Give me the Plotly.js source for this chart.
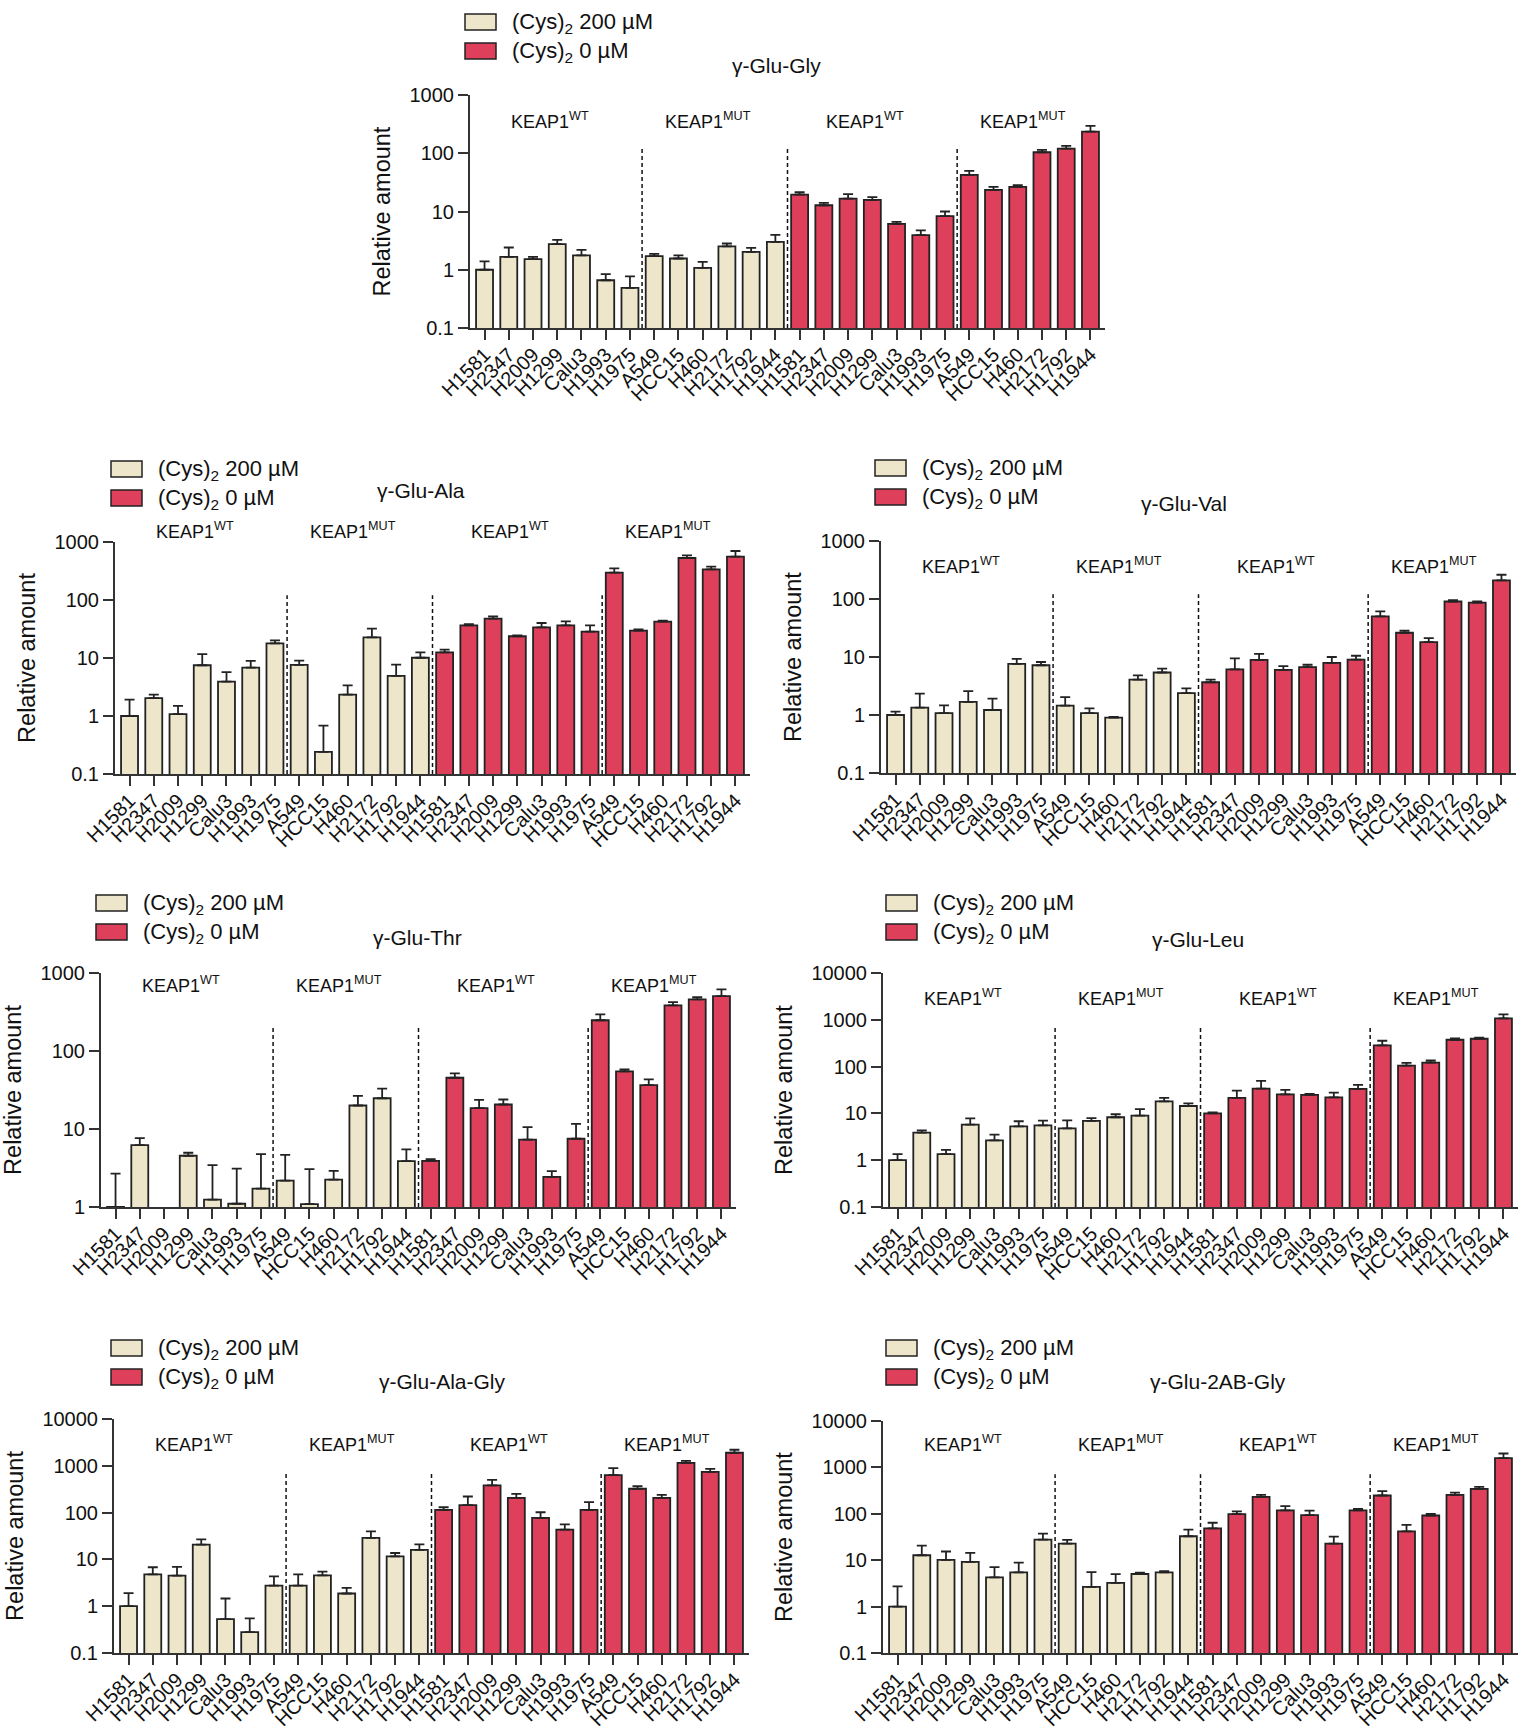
<!DOCTYPE html>
<html>
<head>
<meta charset="utf-8">
<script src="https://cdn.plot.ly/plotly-3.0.1.min.js"></script>
<style>html,body{margin:0;padding:0;background:#fff;}</style>
</head>
<body>
<div id="chart" style="width:1525px;height:1729px;"></div>
<script>
// Cell lines, shown once for each medium condition
const cellLines = ['H1581','H2347','H2009','H1299','Calu3','H1993','H1975','A549','HCC15','H460','H2172','H1792','H1944'];
const tickLabels = cellLines.concat(cellLines);
const groupLabels = ['KEAP1<sup>WT</sup>','KEAP1<sup>MUT</sup>','KEAP1<sup>WT</sup>','KEAP1<sup>MUT</sup>'];
const seriesNames = ['(Cys)<sub>2</sub> 200 µM','(Cys)<sub>2</sub> 0 µM'];

// γ-Glu-Gly
const gluGly_cys200     = [1.0, 1.67, 1.52, 2.75, 1.76, 0.66, 0.49, 1.71, 1.56, 1.08, 2.51, 2.03, 3.02];
const gluGly_cys200_err = [0.39, 0.74, 0.15, 0.5, 0.44, 0.18, 0.28, 0.16, 0.2, 0.29, 0.31, 0.35, 0.96];
const gluGly_cys0       = [19.5, 12.8, 16.7, 15.8, 6.15, 3.93, 8.3, 42.5, 23.5, 26.5, 104, 120, 235];
const gluGly_cys0_err   = [1.9, 1.3, 3.1, 1.8, 0.5, 0.8, 1.7, 7.3, 3, 1.8, 10, 14, 59];

// γ-Glu-Ala
const gluAla_cys200     = [1.0, 2.04, 1.08, 7.5, 3.9, 6.8, 17.9, 7.6, 0.24, 2.33, 22.7, 4.9, 10.1];
const gluAla_cys200_err = [0.91, 0.29, 0.41, 4.2, 1.8, 2.1, 2.3, 1.4, 0.44, 1.05, 9.4, 2.8, 2.4];
const gluAla_cys0       = [12.5, 36.5, 47.7, 23.7, 33.8, 36.5, 28.5, 296, 29.6, 42.3, 530, 338, 558];
const gluAla_cys0_err   = [1.4, 2, 4.5, 0.9, 6.3, 6.4, 8, 56, 1.6, 1.7, 59, 38, 142];

// γ-Glu-Val
const gluVal_cys200     = [1.0, 1.34, 1.08, 1.69, 1.22, 7.6, 7.2, 1.45, 1.08, 0.9, 4.08, 5.4, 2.39];
const gluVal_cys200_err = [0.14, 0.99, 0.39, 0.9, 0.69, 1.7, 1.0, 0.59, 0.22, 0.03, 0.76, 0.9, 0.48];
const gluVal_cys0       = [3.67, 6.14, 8.9, 6.0, 6.7, 7.9, 9.0, 50, 26.2, 18.1, 90.6, 86.5, 209];
const gluVal_cys0_err   = [0.4, 3.35, 2.4, 0.94, 0.65, 2.1, 1.5, 11, 2.2, 3.1, 5, 4, 53];

// γ-Glu-Thr
const gluThr_cys200     = [1.0, 6.2, 0.6, 4.54, 1.24, 1.1, 1.72, 2.18, 1.09, 2.25, 20, 24.8, 3.87];
const gluThr_cys200_err = [1.68, 1.44, 0.2, 0.42, 2.2, 2.0, 3.05, 2.49, 1.96, 0.66, 6.6, 8.2, 1.6];
const gluThr_cys0       = [3.9, 45.4, 18.5, 20.6, 7.3, 2.43, 7.5, 248, 54.7, 36.5, 384, 458, 506];
const gluThr_cys0_err   = [0.2, 6.2, 5.1, 3.3, 3.3, 0.45, 4.1, 46, 3.3, 6.7, 40, 33, 110];

// γ-Glu-Leu
const gluLeu_cys200     = [1.0, 3.88, 1.35, 5.76, 2.65, 5.3, 5.57, 4.8, 6.9, 8.28, 9.0, 18.1, 14.4];
const gluLeu_cys200_err = [0.35, 0.47, 0.32, 2.1, 0.86, 1.5, 1.45, 2.3, 1.0, 1.3, 3.4, 3.3, 2];
const gluLeu_cys0       = [10, 21.4, 34, 25.6, 24.8, 22.1, 33.4, 283, 105, 122, 375, 394, 1068];
const gluLeu_cys0_err   = [0.5, 9.3, 15.7, 6.2, 1.3, 5.8, 7.3, 74, 15, 13, 26, 20, 236];

// γ-Glu-Ala-Gly
const gluAlaGly_cys200     = [1.0, 4.79, 4.49, 20.7, 0.53, 0.28, 2.74, 2.74, 4.56, 1.87, 28.7, 11.6, 15.9];
const gluAlaGly_cys200_err = [0.9, 2.0, 2.4, 6.2, 0.93, 0.27, 1.6, 2.05, 0.9, 0.6, 11, 2.1, 5.1];
const gluAlaGly_cys0       = [114, 144, 380, 207, 76.8, 43.2, 114, 631, 323, 207, 1160, 743, 1900];
const gluAlaGly_cys0_err   = [16, 77, 122, 45, 25, 13, 53, 260, 45, 33, 120, 119, 300];

// γ-Glu-2AB-Gly
const glu2ABGly_cys200     = [1.0, 12.8, 10.2, 9.2, 4.27, 5.47, 27.8, 22.8, 2.65, 3.23, 5.04, 5.47, 32.8];
const glu2ABGly_cys200_err = [1.74, 7.8, 5.2, 5.2, 2.85, 3.4, 9.6, 4.6, 2.9, 1.8, 0.33, 0.37, 12.8];
const glu2ABGly_cys0       = [48.4, 98.4, 232, 118, 93.6, 22.7, 118, 248, 41.7, 92, 256, 344, 1586];
const glu2ABGly_cys0_err   = [15.7, 14, 24, 28, 24, 9.4, 10, 59, 16, 8, 31, 36, 409];

// Decade tick labels for the log axes
const decadeTicks = [0.1, 1, 10, 100, 1000, 10000];
const decadeText  = ['0.1', '1', '10', '100', '1000', '10000'];

const W = 1525, H = 1729;
const CREAM = '#EDE6CB', RED = '#DE3F5B', EDGE = '#222222', AXIS = '#333333';
const FONT = 'Liberation Sans, Arial, Helvetica, sans-serif';

// Panel layout: plot box in page pixels [left, right, top, bottom], log range, legend / title anchors
const panels = [
  {title:'γ-Glu-Gly',     box:[470,1105,95,328],   logRange:[-1,3], legend:[465,14],   titleAt:[777,66],   groupY:120,
   lo:gluGly_cys200, loErr:gluGly_cys200_err, hi:gluGly_cys0, hiErr:gluGly_cys0_err},
  {title:'γ-Glu-Ala',     box:[115,750,542,774],   logRange:[-1,3], legend:[111,461],  titleAt:[421,490],  groupY:530,
   lo:gluAla_cys200, loErr:gluAla_cys200_err, hi:gluAla_cys0, hiErr:gluAla_cys0_err},
  {title:'γ-Glu-Val',     box:[881,1516,541,773],  logRange:[-1,3], legend:[875,460],  titleAt:[1184,504], groupY:565,
   lo:gluVal_cys200, loErr:gluVal_cys200_err, hi:gluVal_cys0, hiErr:gluVal_cys0_err},
  {title:'γ-Glu-Thr',     box:[101,736,973,1207],  logRange:[0,3],  legend:[96,895],   titleAt:[417,937],  groupY:984,
   lo:gluThr_cys200, loErr:gluThr_cys200_err, hi:gluThr_cys0, hiErr:gluThr_cys0_err},
  {title:'γ-Glu-Leu',     box:[883,1518,973,1207], logRange:[-1,4], legend:[886,895],  titleAt:[1198,939], groupY:998,
   lo:gluLeu_cys200, loErr:gluLeu_cys200_err, hi:gluLeu_cys0, hiErr:gluLeu_cys0_err},
  {title:'γ-Glu-Ala-Gly', box:[114,749,1419,1653], logRange:[-1,4], legend:[111,1340], titleAt:[442,1381], groupY:1443,
   lo:gluAlaGly_cys200, loErr:gluAlaGly_cys200_err, hi:gluAlaGly_cys0, hiErr:gluAlaGly_cys0_err},
  {title:'γ-Glu-2AB-Gly', box:[883,1518,1421,1653],logRange:[-1,4], legend:[886,1340], titleAt:[1218,1381], groupY:1443,
   lo:glu2ABGly_cys200, loErr:glu2ABGly_cys200_err, hi:glu2ABGly_cys0, hiErr:glu2ABGly_cys0_err}
];

const px = v => v / W;
const py = v => 1 - v / H;

const nLines = cellLines.length;
const posLow  = cellLines.map((_, i) => i);
const posHigh = cellLines.map((_, i) => i + nLines);
const allPos  = posLow.concat(posHigh);
const noMinus = cellLines.map(() => 0);

const traces = [];
const layout = {
  width: W, height: H,
  margin: {l:0, r:0, t:0, b:0},
  paper_bgcolor: '#fff', plot_bgcolor: 'rgba(0,0,0,0)',
  font: {family: FONT, color: '#111', size: 20},
  barmode: 'overlay',
  showlegend: false,
  shapes: [], annotations: []
};

function barTrace(xs, ys, errs, color, name, xa, ya) {
  return {
    type: 'bar', name: name, x: xs, y: ys, xaxis: xa, yaxis: ya, width: 0.7,
    marker: {color: color, line: {color: EDGE, width: 1.8}},
    error_y: {type: 'data', symmetric: false, array: errs, arrayminus: noMinus,
              color: EDGE, thickness: 1.8, width: 5},
    hoverinfo: 'x+y'
  };
}

panels.forEach((p, k) => {
  const sfx = k === 0 ? '' : String(k + 1);
  const xa = 'x' + sfx, ya = 'y' + sfx;
  const [l, r, t, b] = p.box;

  traces.push(barTrace(posLow,  p.lo, p.loErr, CREAM, '(Cys)2 200 µM', xa, ya));
  traces.push(barTrace(posHigh, p.hi, p.hiErr, RED,   '(Cys)2 0 µM',   xa, ya));

  const tv = [], tt = [];
  decadeTicks.forEach((v, i) => {
    const lg = Math.log10(v);
    if (lg >= p.logRange[0] - 1e-9 && lg <= p.logRange[1] + 1e-9) { tv.push(v); tt.push(decadeText[i]); }
  });

  layout['xaxis' + sfx] = {
    domain: [px(l), px(r)], anchor: ya,
    range: [-0.6, 2 * nLines - 0.4],
    tickmode: 'array', tickvals: allPos, ticktext: tickLabels, tickangle: -45,
    ticks: 'outside', ticklen: 10, tickwidth: 2, tickcolor: AXIS,
    tickfont: {size: 20, color: '#111'}, ticklabelstandoff: -5,
    showline: true, linewidth: 2, linecolor: AXIS,
    showgrid: false, zeroline: false, fixedrange: true
  };
  layout['yaxis' + sfx] = {
    domain: [py(b), py(t)], anchor: xa, type: 'log',
    range: p.logRange,
    tickmode: 'array', tickvals: tv, ticktext: tt,
    ticks: 'outside', ticklen: 10, tickwidth: 2, tickcolor: AXIS,
    tickfont: {size: 20, color: '#111'},
    showline: true, linewidth: 2, linecolor: AXIS,
    showgrid: false, zeroline: false, fixedrange: true,
    title: {text: 'Relative amount', font: {size: 23.5, color: '#111'}, standoff: 12}
  };

  // dashed separators between KEAP1 groups
  [6.5, 12.5, 19.5].forEach(xv => {
    layout.shapes.push({type: 'line', xref: xa, yref: ya + ' domain', x0: xv, x1: xv, y0: 0, y1: 0.77,
                        line: {color: '#111', width: 1.5, dash: '4px,3px'}});
  });

  // group labels
  [3, 9.5, 16, 22.5].forEach((c, i) => {
    layout.annotations.push({xref: xa, yref: 'paper', x: c - 0.3, y: py(p.groupY),
      text: groupLabels[i], showarrow: false, xanchor: 'center', yanchor: 'middle',
      font: {size: 18, color: '#111'}});
  });

  // panel title
  layout.annotations.push({xref: 'paper', yref: 'paper', x: px(p.titleAt[0]), y: py(p.titleAt[1]),
    text: p.title, showarrow: false, xanchor: 'center', yanchor: 'middle', font: {size: 21, color: '#111'}});

  // legend swatches and labels
  [CREAM, RED].forEach((c, i) => {
    const bx = p.legend[0], by = p.legend[1] + i * 29;
    layout.shapes.push({type: 'rect', xref: 'paper', yref: 'paper',
      x0: px(bx), x1: px(bx + 31), y0: py(by + 16), y1: py(by),
      fillcolor: c, line: {color: EDGE, width: 1.5}});
    layout.annotations.push({xref: 'paper', yref: 'paper', x: px(bx + 45), y: py(by + 9),
      text: seriesNames[i], showarrow: false, xanchor: 'left', yanchor: 'middle',
      font: {size: 22, color: '#111'}});
  });
});

Plotly.newPlot('chart', traces, layout, {staticPlot: true, displayModeBar: false});
</script>
</body>
</html>
